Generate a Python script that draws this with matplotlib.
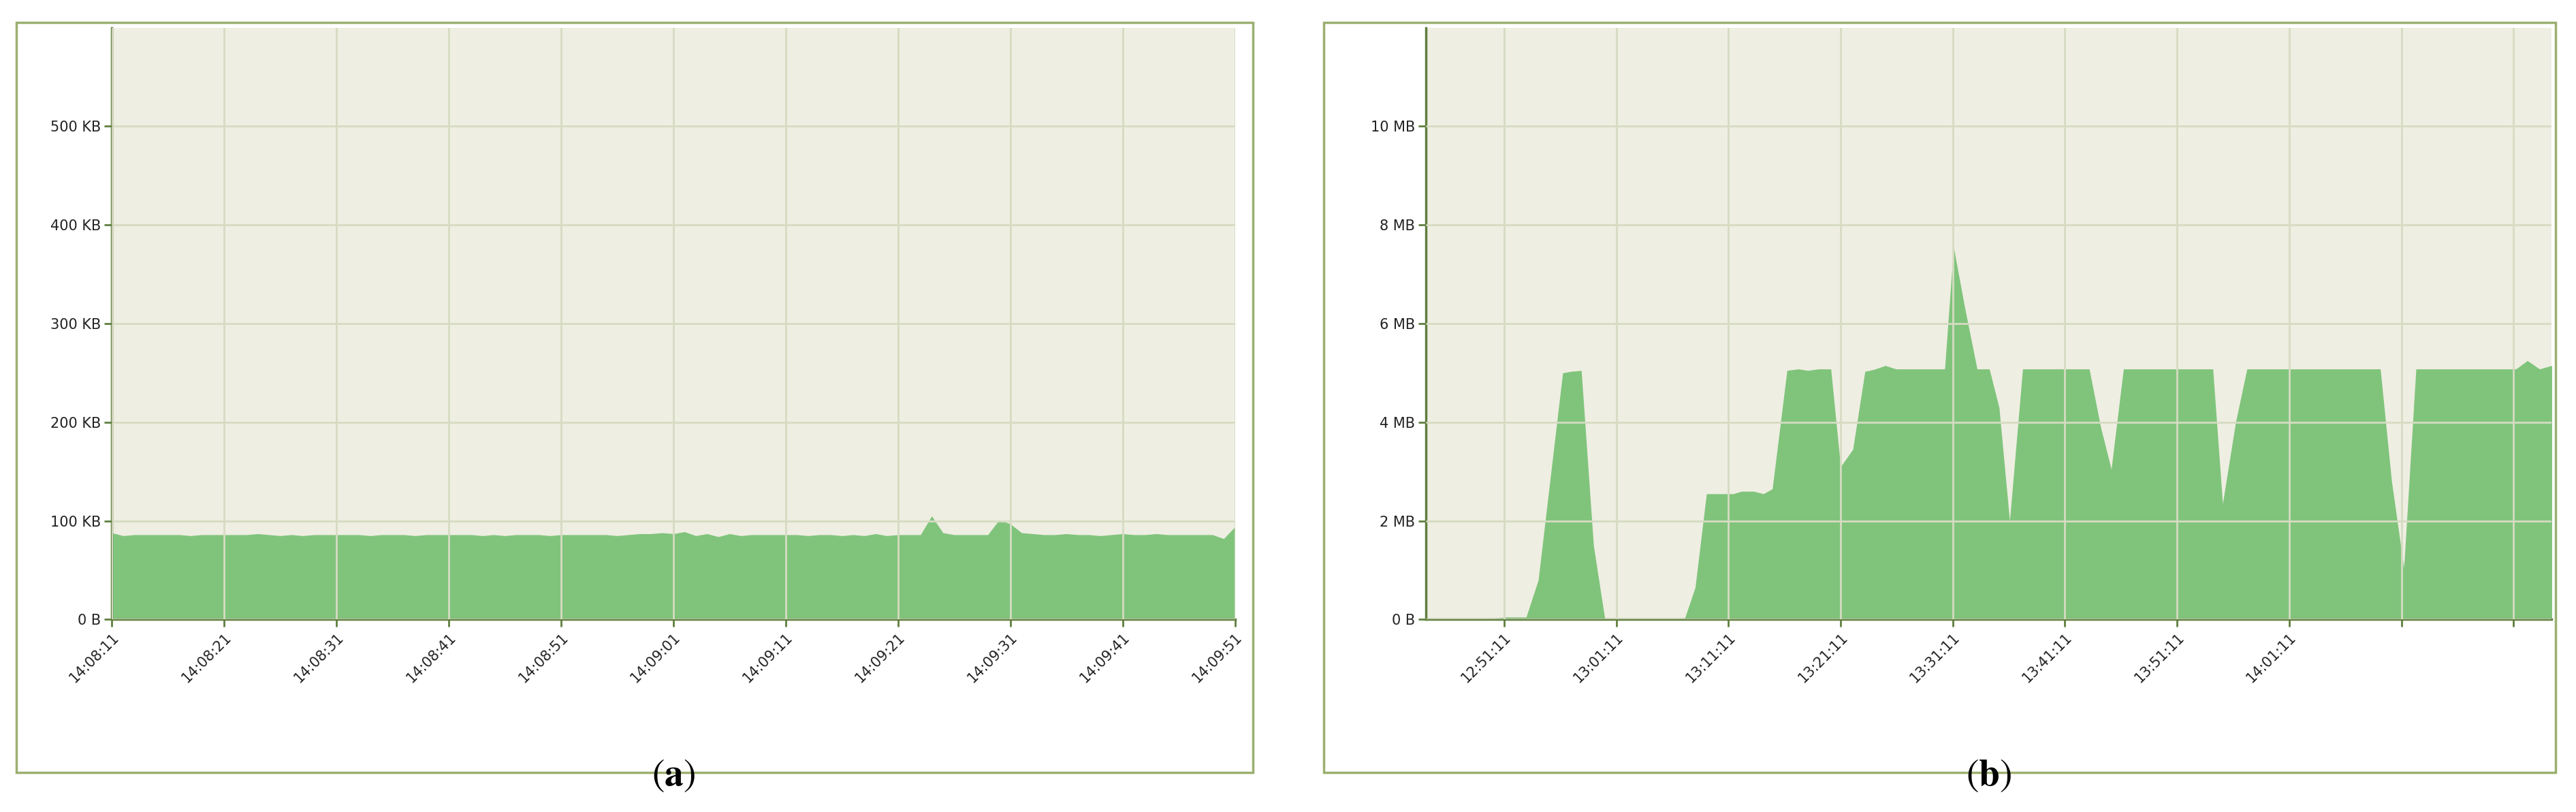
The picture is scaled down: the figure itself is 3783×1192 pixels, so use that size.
import matplotlib
matplotlib.use("Agg")
import matplotlib.pyplot as plt
from matplotlib.patches import Rectangle

plt.rcParams["mathtext.fontset"] = "stix"

BG = "#efeee2"; GRID = "#d6dbc2"; FILL = "#80c47c"; SPINE = "#5f7f3f"; FRAME = "#9cb070"

# (a) seconds after 14:08:11, KB
a_sec = list(range(0, 101))
a_kb = [88, 85, 86, 86, 86, 86, 86, 85, 86, 86,
        86, 86, 86, 87, 86, 85, 86, 85, 86, 86,
        86, 86, 86, 85, 86, 86, 86, 85, 86, 86,
        86, 86, 86, 85, 86, 85, 86, 86, 86, 85,
        86, 86, 86, 86, 86, 85, 86, 87, 87, 88,
        87, 89, 85, 87, 84, 87, 85, 86, 86, 86,
        86, 86, 85, 86, 86, 85, 86, 85, 87, 85,
        86, 86, 86, 105, 88, 86, 86, 86, 86, 101,
        97, 88, 87, 86, 86, 87, 86, 86, 85, 86,
        87, 86, 86, 87, 86, 86, 86, 86, 86, 82, 94]
a_ticks = list(range(0, 101, 10))
a_labels = ["14:08:11", "14:08:21", "14:08:31", "14:08:41", "14:08:51", "14:09:01",
            "14:09:11", "14:09:21", "14:09:31", "14:09:41", "14:09:51"]
a_yticks = [0, 100, 200, 300, 400, 500]
a_ylabels = ["0 B", "100 KB", "200 KB", "300 KB", "400 KB", "500 KB"]

# (b) minutes after 12:51:11, MB
b_min = [-6.96, -3.12, -0.58, 0.14, 1.96, 3.04, 5.22, 5.94, 6.88, 7.97, 8.99, 9.93,
         13.91, 16.09, 17.03, 18.04, 20.43, 21.16, 22.25, 23.12, 23.91, 25.22, 26.23,
         27.10, 28.04, 29.13, 30.0, 31.09, 32.17, 32.97, 33.99, 34.93, 39.28, 40.07,
         41.09, 42.17, 43.26, 44.13, 45.07, 46.23, 52.17, 53.19, 54.13, 55.22, 63.19,
         64.06, 65.22, 66.23, 78.12, 79.13, 80.22, 81.30, 90.22, 91.23, 92.32, 93.41]
b_mb = [0, 0.02, 0.03, 0.05, 0.05, 0.8, 5.0, 5.03, 5.05, 1.5, 0, 0,
        0, 0.02, 0.65, 2.55, 2.55, 2.6, 2.6, 2.55, 2.65, 5.05, 5.08,
        5.05, 5.08, 5.08, 3.1, 3.45, 5.03, 5.07, 5.15, 5.08, 5.08, 7.55,
        6.3, 5.08, 5.08, 4.3, 2.0, 5.08, 5.08, 3.9, 3.05, 5.08, 5.08,
        2.35, 4.0, 5.08, 5.08, 2.8, 1.05, 5.08, 5.08, 5.25, 5.08, 5.15]
b_ticks = list(range(0, 91, 10))
b_labels = ["12:51:11", "13:01:11", "13:11:11", "13:21:11", "13:31:11", "13:41:11",
            "13:51:11", "14:01:11", "", ""]
b_yticks = [0, 2, 4, 6, 8, 10]
b_ylabels = ["0 B", "2 MB", "4 MB", "6 MB", "8 MB", "10 MB"]

fig = plt.figure(figsize=(37.83, 11.92), dpi=100)
for x0, w in [(0.0064, 0.480), (0.514, 0.478)]:
    fig.patches.append(Rectangle((x0, 0.049), w, 0.923, transform=fig.transFigure,
                                 fill=False, ec=FRAME, lw=2.5))

def panel(rect, x, y, xlim, ylim, xt, xl, yt, yl, cap):
    ax = fig.add_axes(rect)
    ax.set_facecolor(BG)
    ax.fill_between(x, y, 0, color=FILL, lw=0)
    ax.set_xlim(*xlim); ax.set_ylim(*ylim)
    ax.set_xticks(xt); ax.set_xticklabels(xl, rotation=45, ha="right", va="top",
                                          rotation_mode="anchor", fontsize=15, color="#222")
    ax.set_yticks(yt); ax.set_yticklabels(yl, fontsize=15, color="#222")
    ax.grid(True, color=GRID, lw=2)
    ax.set_axisbelow(False)
    for s in ["top", "right"]:
        ax.spines[s].set_visible(False)
    for s in ["left", "bottom"]:
        ax.spines[s].set_color(SPINE); ax.spines[s].set_linewidth(2.5)
    ax.tick_params(color=SPINE, width=2, length=8)
    fig.text(rect[0] + rect[2] / 2, 0.045, cap, ha="center", va="center", fontsize=40)
    return ax

axa = panel([0.0434, 0.237, 0.436, 0.729], a_sec, a_kb, (0, 100), (0, 600),
            a_ticks, a_labels, a_yticks, a_ylabels, r"$(\mathbf{a})$")
axb = panel([0.5536, 0.237, 0.437, 0.729], b_min, b_mb, (-6.96, 93.41), (0, 12),
            b_ticks, b_labels, b_yticks, b_ylabels, r"$(\mathbf{b})$")

fig.savefig("out.png", dpi=100)
